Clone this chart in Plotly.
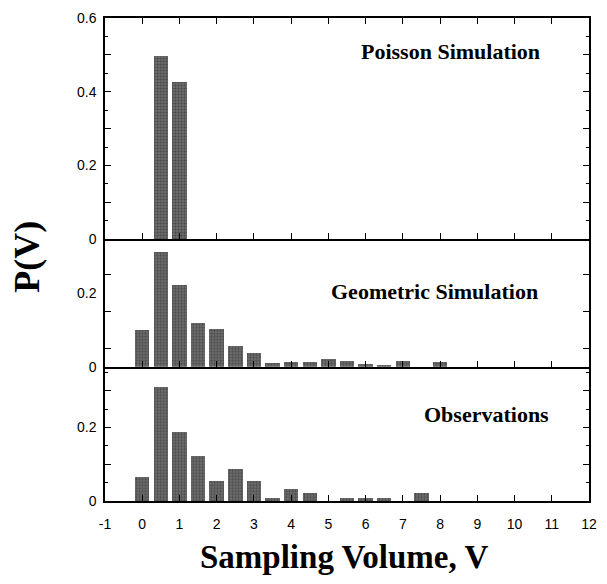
import plotly.graph_objects as go

# ---- data ----
volumes = [0, 0.5, 1, 1.5, 2, 2.5, 3, 3.5, 4, 4.5, 5, 5.5, 6, 6.5, 7, 7.5, 8]
poisson = [0, 0.498, 0.427, 0, 0, 0, 0, 0, 0, 0, 0, 0, 0, 0, 0, 0, 0]
geometric = [0.098, 0.312, 0.222, 0.118, 0.103, 0.055, 0.038, 0.010, 0.012,
             0.011, 0.020, 0.014, 0.006, 0.005, 0.016, 0.0, 0.011]
observations = [0.066, 0.311, 0.189, 0.122, 0.055, 0.089, 0.055, 0.010, 0.033,
                0.022, 0.0, 0.008, 0.009, 0.008, 0.0, 0.022, 0.0]
panel_titles = ["Poisson Simulation", "Geometric Simulation", "Observations"]
x_ticks = list(range(-1, 13))
x_labels = ["-1"] + [str(v) for v in range(0, 13)]
top_yticks = [0, 0.1, 0.2, 0.3, 0.4, 0.5, 0.6]
top_ylabels = ["0", "", "0.2", "", "0.4", "", "0.6"]
mid_yticks = [0, 0.2]
mid_ylabels = ["0", "0.2"]
bot_yticks = [0, 0.1, 0.2, 0.3]
bot_ylabels = ["0", "", "0.2", ""]

BAR_W = 0.39
marker = dict(color="#626262", line=dict(width=0),
              pattern=dict(shape=".", fgcolor="#262626", bgcolor="#747474",
                           size=3, solidity=0.5))

fig = go.Figure()
fig.add_trace(go.Bar(x=volumes, y=observations, width=BAR_W, marker=marker,
                     xaxis="x", yaxis="y", showlegend=False))
fig.add_trace(go.Bar(x=volumes, y=geometric, width=BAR_W, marker=marker,
                     xaxis="x2", yaxis="y2", showlegend=False))
fig.add_trace(go.Bar(x=volumes, y=poisson, width=BAR_W, marker=marker,
                     xaxis="x3", yaxis="y3", showlegend=False))

tickfont = dict(family="Liberation Sans, Arial", size=14, color="black")
xcommon = dict(range=[-1, 12], tickvals=x_ticks, ticktext=x_labels,
               ticks="inside", ticklen=6,
               tickwidth=1, tickcolor="black", showline=True, linecolor="black",
               linewidth=1.5, showgrid=False, zeroline=False,
               tickfont=tickfont)
ycommon = dict(ticks="inside", ticklen=6, tickwidth=1, tickcolor="black",
               showline=True, linecolor="black", linewidth=1.5, mirror="ticks",
               showgrid=False, zeroline=False, tickfont=tickfont,
               ticklabelstandoff=4)
minor_all = dict(dtick=0.05, ticks="inside", ticklen=3, tickcolor="black",
                 showgrid=False)
minor_mid = dict(tick0=0.05, dtick=0.1, ticks="inside", ticklen=6,
                 tickcolor="black", showgrid=False)

d1, d2 = 0.278, 0.542
fig.update_layout(
    width=607, height=584,
    margin=dict(l=105, r=10, t=12, b=83),
    paper_bgcolor="white", plot_bgcolor="white",
    bargap=0,
    xaxis=dict(xcommon, domain=[0, 1], anchor="y", showticklabels=True,
               mirror=False, ticklabelstandoff=9),
    xaxis2=dict(xcommon, domain=[0, 1], anchor="y2", showticklabels=False,
                mirror=False, matches="x"),
    xaxis3=dict(xcommon, domain=[0, 1], anchor="y3", showticklabels=False,
                mirror="ticks", matches="x"),
    yaxis=dict(ycommon, domain=[0, d1], range=[0, 0.365], tickvals=bot_yticks,
               ticktext=bot_ylabels, anchor="x", minor=minor_all),
    yaxis2=dict(ycommon, domain=[d1, d2], range=[0, 0.346], tickvals=mid_yticks,
                ticktext=mid_ylabels, anchor="x2", ticklen=0, minor=minor_mid),
    yaxis3=dict(ycommon, domain=[d2, 1], range=[0, 0.6], tickvals=top_yticks,
                ticktext=top_ylabels, anchor="x3", minor=minor_all),
)

afont = dict(family="Liberation Serif, Times New Roman", size=22, color="black",
             weight="bold")
fig.add_annotation(x=10.73, y=0.509, xref="x3", yref="y3", text=panel_titles[0],
                   showarrow=False, xanchor="right", yanchor="middle", font=afont)
fig.add_annotation(x=10.69, y=0.205, xref="x2", yref="y2", text=panel_titles[1],
                   showarrow=False, xanchor="right", yanchor="middle", font=afont)
fig.add_annotation(x=10.98, y=0.235, xref="x", yref="y", text=panel_titles[2],
                   showarrow=False, xanchor="right", yanchor="middle", font=afont)

fig.add_annotation(x=-0.16, y=0.505, xref="paper", yref="paper", text="P(V)",
                   textangle=-90, showarrow=False,
                   font=dict(family="Liberation Serif, Times New Roman", size=36,
                             color="black", weight="bold"),
                   xanchor="center", yanchor="middle")
fig.add_annotation(x=0.494, y=-0.116, xref="paper", yref="paper",
                   text="Sampling Volume, V", showarrow=False,
                   font=dict(family="Liberation Serif, Times New Roman", size=33,
                             color="black", weight="bold"),
                   xanchor="center", yanchor="middle")

fig.write_html("out.html",
               config={"displayModeBar": False},
               post_script="document.body.style.margin='0px';"
                           "document.body.style.overflow='hidden';")
